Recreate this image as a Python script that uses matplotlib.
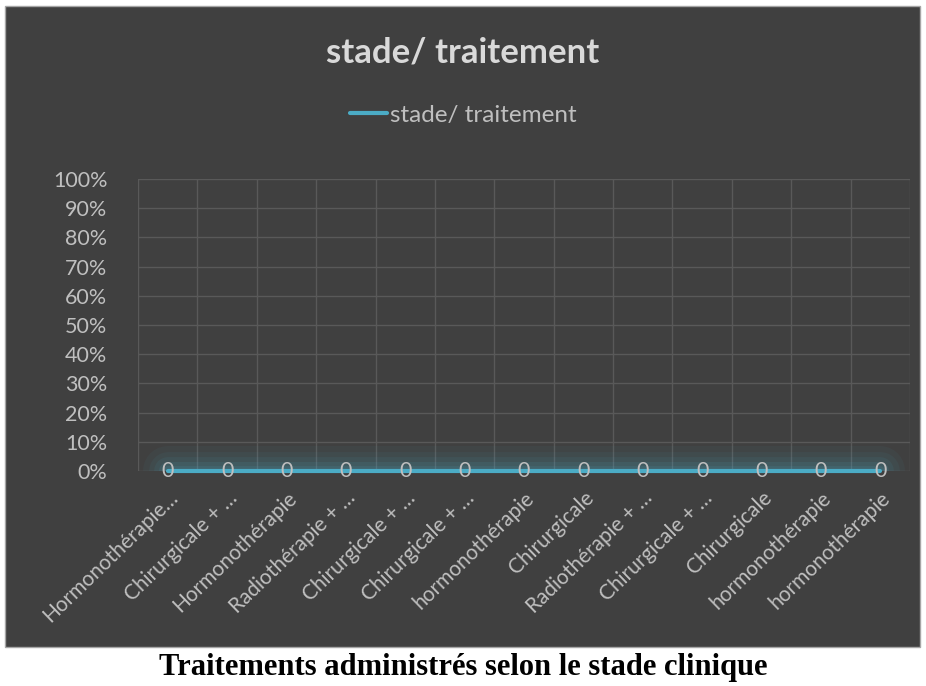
import matplotlib
matplotlib.use("Agg")
import matplotlib.pyplot as plt
from matplotlib.patches import Rectangle
from matplotlib.ticker import PercentFormatter, MultipleLocator

BG, GRID, INK, LINE = "#404040", "#595959", "#bfbfbf", "#4bacc6"

categories = ["Hormonothérapie…", "Chirurgicale + …", "Hormonothérapie",
              "Radiothérapie + …", "Chirurgicale + …", "Chirurgicale + …",
              "hormonothérapie", "Chirurgicale", "Radiothérapie + …",
              "Chirurgicale + …", "Chirurgicale", "hormonothérapie",
              "hormonothérapie"]
values = [0, 0, 0, 0, 0, 0, 0, 0, 0, 0, 0, 0, 0]
series_name = "stade/ traitement"

plt.rcParams["font.family"] = ["Lato", "DejaVu Sans"]
W, H = 926, 686
fig = plt.figure(figsize=(W / 100, H / 100), dpi=100, facecolor="white")

# dark chart panel
fig.patches.append(Rectangle((5 / W, 1 - 647 / H), 915 / W, 641 / H,
                             transform=fig.transFigure, facecolor=BG,
                             edgecolor="#a6a6a6", linewidth=1.0, zorder=-10))

ax = fig.add_axes([138 / W, 1 - 471 / H, 772 / W, 292 / H])
ax.set_zorder(2)
ax.set_facecolor("none")
x = list(range(len(categories)))
ax.set_xlim(-0.5, len(categories) - 0.5)
ax.set_ylim(0, 1)

# soft glow above the line (clipped by the plot area)
for lw, a in [(36, 0.05), (28, 0.06), (20, 0.08), (13, 0.10), (7, 0.12)]:
    ax.plot(x, values, color=LINE, linewidth=lw, alpha=a,
            solid_capstyle="round", zorder=2)
ax.plot(x, values, color=LINE, linewidth=3.0, solid_capstyle="round",
        zorder=3, label=series_name, clip_on=False)

for xi, v in zip(x, values):
    ax.text(xi, v, f"{v}", ha="center", va="center", fontsize=15.5,
            color=INK, zorder=4, clip_on=False)

ax.yaxis.set_major_locator(MultipleLocator(0.1))
ax.yaxis.set_major_formatter(PercentFormatter(1.0, decimals=0))
ax.set_xticks([i + 0.5 for i in range(-1, len(categories))], minor=False)
ax.set_xticklabels([])
ax.set_xticks(x, minor=True)
ax.set_xticklabels(categories, minor=True, rotation=44, ha="right",
                   rotation_mode="anchor", fontsize=15, color=INK)
ax.tick_params(axis="x", which="both", length=0, pad=12)
ax.tick_params(axis="y", length=0, pad=22, labelsize=15.5, labelcolor=INK)
ax.grid(True, which="major", color=GRID, linewidth=1.0)
ax.set_axisbelow(True)
for s in ax.spines.values():
    s.set_visible(False)

fig.text(0.5, 1 - 52 / H, "stade/ traitement", ha="center", va="center",
         fontsize=25, fontweight="bold", color="#d9d9d9")
fig.legend(loc="center", bbox_to_anchor=(0.5, 1 - 115 / H), frameon=False,
           fontsize=17.5, labelcolor=INK, handlelength=1.55, handletextpad=0.1)

fig.text(0.5, 1 - 668 / H, "Traitements administrés selon le stade clinique",
         ha="center", va="center", fontsize=22, fontweight="bold",
         family=["Liberation Serif", "DejaVu Serif"], color="black")

fig.savefig("out.png", dpi=100, facecolor="white")
